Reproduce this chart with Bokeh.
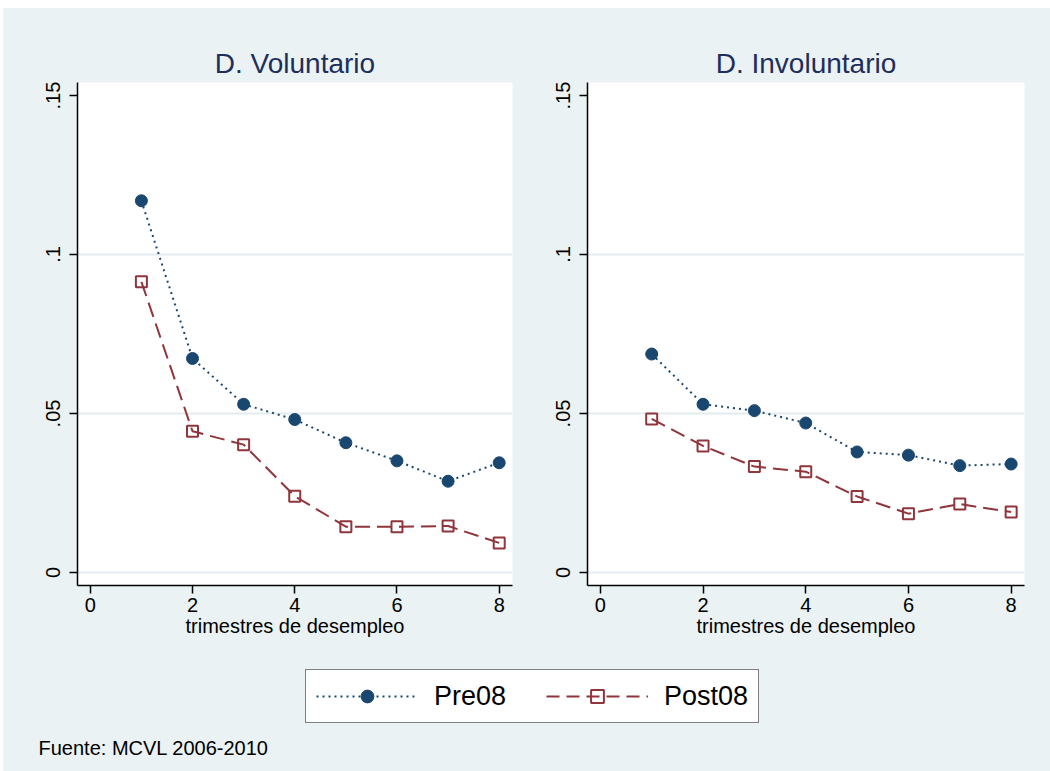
from bokeh.plotting import figure
from bokeh.layouts import column, row
from bokeh.models import Range1d, FixedTicker, Legend, LegendItem, Label
from bokeh.embed import file_html
from bokeh.resources import INLINE

# Quarters of unemployment and exit rates by group
trimestres = [1, 2, 3, 4, 5, 6, 7, 8]
vol_pre08 = [0.1169, 0.0673, 0.0529, 0.0481, 0.0408, 0.0351, 0.0287, 0.0345]
vol_post08 = [0.0914, 0.0444, 0.0402, 0.0240, 0.0144, 0.0144, 0.0146, 0.0093]
inv_pre08 = [0.0687, 0.0529, 0.0509, 0.0470, 0.0379, 0.0369, 0.0336, 0.0341]
inv_post08 = [0.0483, 0.0398, 0.0333, 0.0317, 0.0239, 0.0185, 0.0215, 0.0190]

x_ticks = [0, 2, 4, 6, 8]
y_ticks = [0, 0.05, 0.1, 0.15]
y_tick_labels = ["0", ".05", ".1", ".15"]
panel_titles = ["D. Voluntario", "D. Involuntario"]
x_title = "trimestres de desempleo"
series_names = ["Pre08", "Post08"]
source_note = "Fuente: MCVL 2006-2010"

BG = "#EAF2F3"
GRID = "#E2ECEF"
NAVY = "#1A476F"
MAROON = "#90353B"
TITLE_COLOR = "#1E2E5C"
FONT = "Liberation Sans"
PRE_DASH = "2 4"
POST_DASH = "15 7"


def panel(title, pre, post, frame_w, left, right):
    p = figure(frame_width=frame_w, frame_height=503,
               x_range=Range1d(-0.25, 8.26), y_range=Range1d(-0.0041, 0.1541),
               output_backend="svg", toolbar_location=None,
               min_border_left=left, min_border_right=right,
               min_border_top=74, min_border_bottom=70,
               background_fill_color="white", border_fill_color=BG,
               outline_line_color=None)
    p.title.text = title
    p.title.align = "center"
    p.title.text_font = FONT
    p.title.text_font_size = "28px"
    p.title.text_font_style = "normal"
    p.title.text_color = TITLE_COLOR
    p.title.standoff = 7

    p.xaxis.ticker = FixedTicker(ticks=x_ticks)
    p.yaxis.ticker = FixedTicker(ticks=y_ticks)
    p.yaxis.major_label_overrides = dict(zip(y_ticks, y_tick_labels))
    p.yaxis.major_label_orientation = "vertical"
    for ax in (p.xaxis, p.yaxis):
        ax.axis_line_color = "black"
        ax.axis_line_width = 1.5
        ax.major_tick_line_color = "black"
        ax.major_tick_line_width = 1.5
        ax.major_tick_out = 8
        ax.major_tick_in = 0
        ax.minor_tick_line_color = None
        ax.major_label_text_font = FONT
        ax.major_label_text_font_size = "20px"
        ax.major_label_text_color = "black"
    p.xaxis.major_label_standoff = 4
    p.yaxis.major_label_standoff = 9
    p.xaxis.axis_label = x_title
    p.xaxis.axis_label_text_font = FONT
    p.xaxis.axis_label_text_font_size = "20px"
    p.xaxis.axis_label_text_font_style = "normal"
    p.xaxis.axis_label_text_color = "black"
    p.xaxis.axis_label_standoff = 0

    p.xgrid.visible = False
    p.ygrid.ticker = FixedTicker(ticks=y_ticks[:-1])
    p.ygrid.grid_line_color = GRID
    p.ygrid.grid_line_width = 2

    p.line(trimestres, pre, line_color=NAVY, line_width=2, line_dash=PRE_DASH)
    p.scatter(trimestres, pre, marker="circle", size=12, color=NAVY)
    p.line(trimestres, post, line_color=MAROON, line_width=2, line_dash=POST_DASH)
    p.scatter(trimestres, post, marker="square", size=11, line_color=MAROON,
              line_width=2, fill_color=None)
    return p


p1 = panel(panel_titles[0], vol_pre08, vol_post08, 435, 74, 18)
p2 = panel(panel_titles[1], inv_pre08, inv_post08, 437, 57, 26)

# Bottom strip: shared legend and source note
leg = figure(width=1047, height=116, x_range=Range1d(0, 1047), y_range=Range1d(0, 116),
             output_backend="svg", toolbar_location=None, min_border=0,
             x_axis_location=None, y_axis_location=None,
             background_fill_color=BG, border_fill_color=BG, outline_line_color=None)
leg.grid.visible = False

# Hidden copies of the series: they only supply the legend swatches
l_pre = leg.line(trimestres, vol_pre08, line_color=NAVY, line_width=2, line_dash=PRE_DASH, visible=False)
m_pre = leg.scatter(trimestres, vol_pre08, marker="circle", size=15, color=NAVY, visible=False)
l_post = leg.line(trimestres, vol_post08, line_color=MAROON, line_width=2, line_dash="13 7", visible=False)
m_post = leg.scatter(trimestres, vol_post08, marker="square", size=13, line_color=MAROON,
                     line_width=2, fill_color=None, visible=False)

legend = Legend(items=[LegendItem(label=series_names[0], renderers=[l_pre, m_pre]),
                       LegendItem(label=series_names[1], renderers=[l_post, m_post])],
                orientation="horizontal", location=(302, 48),
                glyph_width=102, glyph_height=32, label_standoff=16, spacing=40,
                padding=10, margin=0, border_line_color="black", border_line_width=1,
                background_fill_color="white", background_fill_alpha=1,
                inactive_fill_alpha=0,
                label_text_font=FONT, label_text_font_size="27px",
                label_text_color="black")
leg.add_layout(legend)

leg.add_layout(Label(x=35, y=24, text=source_note, text_font=FONT,
                     text_font_size="20px", text_baseline="middle", text_color="black"))

panels = row(p1, p2, styles={"background-color": BG})
layout = column(panels, leg, margin=(8, 0, 0, 3), styles={"background-color": BG})

open("out.html", "w").write(file_html(layout, INLINE))
